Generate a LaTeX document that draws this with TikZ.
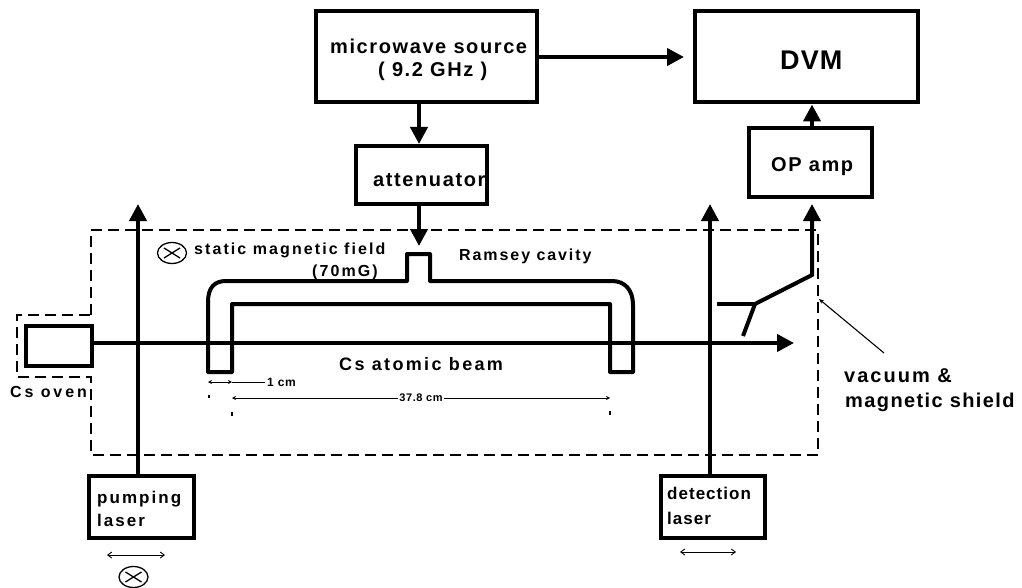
\documentclass[tikz,border=0pt]{standalone}
\usepackage{fontspec}
\setmainfont{Liberation Sans}
\usetikzlibrary{arrows.meta,calc,shapes.geometric}
\tikzset{
  boxn/.style={draw=black,line width=4pt,inner sep=0pt},
  lbl/.style 2 args={inner sep=0pt,anchor=west,font=\bfseries\fontsize{#1}{#1}\selectfont\addfontfeature{LetterSpace=#2}},
  thick arrow/.style={line width=4pt,line join=miter,-{Triangle[length=17pt,width=17pt]}},
  thin arrow/.style={line width=0.9pt,{Straight Barb[length=4pt,width=6pt]}-{Straight Barb[length=4pt,width=6pt]}},
  dim arrow/.style={line width=0.8pt,{Stealth[length=4pt,width=4pt]}-{Stealth[length=4pt,width=4pt]}},
  shield/.style={line width=1.3pt,dash pattern=on 11pt off 6pt},
  cross/.style={draw=black,line width=1.3pt,ellipse,inner sep=0pt,minimum width=29pt,minimum height=21pt},
}
\begin{document}
\begin{tikzpicture}[x=1pt,y=-1pt]
\useasboundingbox (0,0) rectangle (1022,588);
% shield
\draw[shield] (91,315) -- (91,230) -- (818,230) -- (818,455) -- (91,455) -- (91,377) -- (17,377) -- (17,315) -- cycle;
% boxes
\node[boxn,minimum width=221pt,minimum height=91pt] (mw) at (426.5,57) {};
\node[boxn,minimum width=223pt,minimum height=91pt] (dvm) at (806.5,57) {};
\node[boxn,minimum width=131pt,minimum height=58pt] (att) at (421.5,175) {};
\node[boxn,minimum width=123pt,minimum height=69pt] (op) at (810.5,163) {};
\node[boxn,minimum width=66pt,minimum height=40pt] (oven) at (59,346) {};
\node[boxn,minimum width=105pt,minimum height=62pt] (pump) at (141.5,507) {};
\node[boxn,minimum width=104pt,minimum height=62pt] (det) at (713,507) {};
% box texts
\node[lbl={20}{8}] (t5) at (330,46) {microwave source};
\node[lbl={20}{8}] (t6) at (378,71) {( 9.2 GHz )};
\node[lbl={27}{4}] (t7) at (780,60) {DVM};
\node[lbl={20}{8}] (t8) at (373,180) {attenuator};
\node[lbl={20}{8}] (t9) at (771,167) {OP amp};
\node[lbl={17}{12}] (t1) at (97,499) {pumping};
\node[lbl={17}{12}] (t2) at (97,520) {laser};
\node[lbl={17}{6}] (t3) at (667,493) {detection};
\node[lbl={17}{6}] (t4) at (667,518) {laser};
% free end points
\coordinate (ptip) at (138,204);
\coordinate (dtip) at (710,204);
\coordinate (btip) at (794,343);
\coordinate (atip) at (419,246);
\coordinate (otip) at (812,204);
\coordinate (j1) at (755,304);
\coordinate (j2) at (812,275);
\coordinate (j3) at (717,304);
\coordinate (j4) at (743,336);
\coordinate (s1) at (819,299);
\coordinate (s2) at (884,353);
% cavity
\draw[line width=4pt,line join=round]
  (208,372) -- (208,302) .. controls (208,288) and (214,281) .. (226,281)
  -- (407,281) -- (407,254) -- (430,254) -- (430,281) -- (612,281)
  .. controls (625,281) and (633,290) .. (633,305) -- (633,372) -- (610,372)
  -- (610,304) -- (232,304) -- (232,372) -- cycle;
% arrows
\draw[thick arrow] (mw.east) -- ($(dvm.west)+(-9,0)$);
\draw[thick arrow] (mw.south -| atip) -- (att.north -| atip);
\draw[thick arrow] (att.south -| atip) -- (atip);
\draw[thick arrow] (oven.east |- btip) -- (btip);
\draw[thick arrow] (pump.north -| ptip) -- (ptip);
\draw[thick arrow] (det.north -| dtip) -- (dtip);
\draw[thick arrow] (op.north -| otip) -- (dvm.south -| otip);
\draw[line width=4pt] (j3) -- (j1);
\draw[line width=4pt] (j1) -- (j4);
\draw[thick arrow] (j1) -- (j2) -- (otip);
\draw[line width=1.1pt,-{Stealth[length=5pt,width=4pt]}] (s2) -- (s1);
% double arrows under lasers
\coordinate (a1) at (107,555);
\coordinate (a2) at (165,555);
\coordinate (a3) at (680,552);
\coordinate (a4) at (736,552);
\draw[thin arrow] (a1) -- (a2);
\draw[thin arrow] (a3) -- (a4);
% crosses
\node[cross] (c1) at (172,253) {};
\node[cross] (c2) at (133.5,577) {};
\foreach \c in {c1,c2}{
  \draw[line width=1.3pt] ($(\c)+(-8,-5)$) -- ($(\c)+(8,5)$);
  \draw[line width=1.3pt] ($(\c)+(-8,5)$) -- ($(\c)+(8,-5)$);
}
% dimensions
\coordinate (d1) at (208,382);
\coordinate (d2) at (232,382);
\coordinate (d3) at (265,382);
\coordinate (d4) at (232,398);
\coordinate (d5) at (610,398);
\draw[dim arrow] (d1) -- (d2);
\draw[line width=0.8pt] (d2) -- (d3);
\draw[dim arrow] (d4) -- (d5);
\draw[line width=1.5pt] (209,395) -- (209,398);
\draw[line width=1.5pt] (232,412) -- (232,416);
\draw[line width=1.5pt] (610,411) -- (610,415);
% labels
\node[lbl={12}{5}] (l1) at (267,382) {1 cm};
\node[lbl={11}{5},fill=white,inner sep=1pt,anchor=center] (l2) at (421,398) {37.8 cm};
\node[lbl={16}{13}] (l3) at (194,250) {static magnetic field};
\node[lbl={16}{13}] (l4) at (312,272) {(70mG)};
\node[lbl={16}{12}] (l5) at (459,256) {Ramsey cavity};
\node[lbl={18}{13}] (l6) at (339,364) {Cs atomic beam};
\node[lbl={16}{18}] (l7) at (10,392) {Cs oven};
\node[lbl={20}{10}] (l8) at (844,376) {vacuum \&};
\node[lbl={20}{7}] (l9) at (845,402) {magnetic shield};
\end{tikzpicture}
\end{document}
